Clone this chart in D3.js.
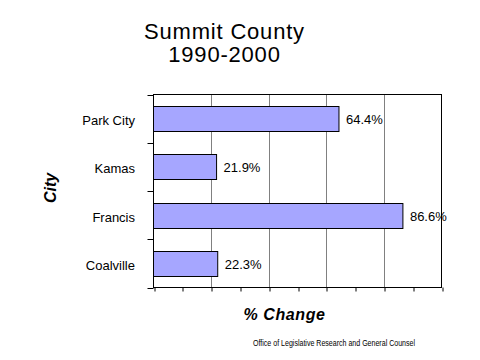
<!DOCTYPE html>
<html><head><meta charset="utf-8">
<script src="https://cdn.jsdelivr.net/npm/d3@7"></script>
<style>body{margin:0;background:#fff}svg{display:block}</style>
</head><body>
<svg id="c" width="480" height="360"></svg>
<script>
const titleLines = ["Summit County", "1990-2000"];
const cities = ["Park City", "Kamas", "Francis", "Coalville"];
const values = [64.4, 21.9, 86.6, 22.3];
const gridTicks = [20, 40, 60, 80];
const minorTicks = [0, 10, 20, 30, 40, 50, 60, 70, 80, 90, 100];
const xTitle = "% Change";
const yTitle = "City";
const footer = "Office of Legislative Research and General Counsel";

const svg = d3.select("#c");
const L = 153.5, R = 441.5, T = 94.5, B = 287.5;
const x = d3.scaleLinear().domain([0, 100]).range([L, R]);
const y = d3.scaleBand().domain(cities).range([T, B]).padding(0);
const barH = 25;
const FONT = "Arial, 'Liberation Sans', sans-serif";

// gridlines
svg.append("g").selectAll("line").data(gridTicks).join("line")
  .attr("x1", d => Math.round(x(d)) + 0.5).attr("x2", d => Math.round(x(d)) + 0.5)
  .attr("y1", T).attr("y2", B)
  .attr("stroke", "#808080").attr("stroke-width", 1);

// bottom minor ticks
svg.append("g").attr("transform", `translate(0,${B})`)
  .call(d3.axisBottom(x).tickValues(minorTicks).tickSize(4).tickFormat(""))
  .call(g => g.select(".domain").remove())
  .selectAll("line").attr("stroke", "#000")
  .attr("transform", function(d){ return `translate(${Math.round(x(d)) + 0.5 - x(d)},0)`; });

// left category ticks at band boundaries
const bounds = cities.map(c => y(c)).concat([B]);
svg.append("g").selectAll("line").data(bounds).join("line")
  .attr("x1", L - 6).attr("x2", L)
  .attr("y1", d => Math.round(d) + 0.5).attr("y2", d => Math.round(d) + 0.5)
  .attr("stroke", "#000");

// plot frame
svg.append("rect").attr("x", L).attr("y", T).attr("width", R - L).attr("height", B - T)
  .attr("fill", "none").attr("stroke", "#000").attr("stroke-width", 1);

// bars
const data = cities.map((c, i) => ({c, v: values[i]}));
svg.append("g").selectAll("rect").data(data).join("rect")
  .attr("x", L)
  .attr("y", d => Math.round(y(d.c) + (y.bandwidth() - barH) / 2) + 0.5)
  .attr("width", d => x(d.v) - L)
  .attr("height", barH)
  .attr("fill", "#a6a6ff").attr("stroke", "#000").attr("stroke-width", 1);

// value labels
svg.append("g").selectAll("text").data(data).join("text")
  .attr("x", d => x(d.v) + 7)
  .attr("y", d => y(d.c) + y.bandwidth() / 2 + 1)
  .attr("dy", "0.35em")
  .attr("font-family", FONT).attr("font-size", 13)
  .attr("fill", "#000")
  .text(d => d.v.toFixed(1) + "%");

// category labels
svg.append("g").selectAll("text").data(cities).join("text")
  .attr("x", 135).attr("y", c => y(c) + y.bandwidth() / 2 + 2)
  .attr("dy", "0.35em").attr("text-anchor", "end")
  .attr("font-family", FONT).attr("font-size", 13)
  .attr("fill", "#000")
  .text(c => c);

// title
svg.append("g").selectAll("text").data(titleLines).join("text")
  .attr("x", 224.5).attr("y", (d, i) => 38.5 + i * 23.5)
  .attr("text-anchor", "middle")
  .attr("font-family", FONT).attr("font-size", 22)
  .attr("letter-spacing", "0.8px")
  .attr("fill", "#000")
  .text(d => d);

// axis titles
svg.append("text").attr("x", 284.5).attr("y", 319.5).attr("text-anchor", "middle")
  .attr("font-family", FONT).attr("font-size", 16).attr("letter-spacing", "0.6px")
  .attr("font-weight", "bold").attr("font-style", "italic").text(xTitle);

svg.append("text").attr("transform", "translate(55.5,188) rotate(-90)").attr("text-anchor", "middle")
  .attr("font-family", FONT).attr("font-size", 16)
  .attr("font-weight", "bold").attr("font-style", "italic").text(yTitle);

// footer
svg.append("text").attr("x", 253).attr("y", 346)
  .attr("font-family", "'Liberation Sans Narrow', 'Arial Narrow', Arial, sans-serif").attr("font-size", 9)
  .attr("textLength", 162).attr("lengthAdjust", "spacingAndGlyphs")
  .text(footer);
</script>
</body></html>
